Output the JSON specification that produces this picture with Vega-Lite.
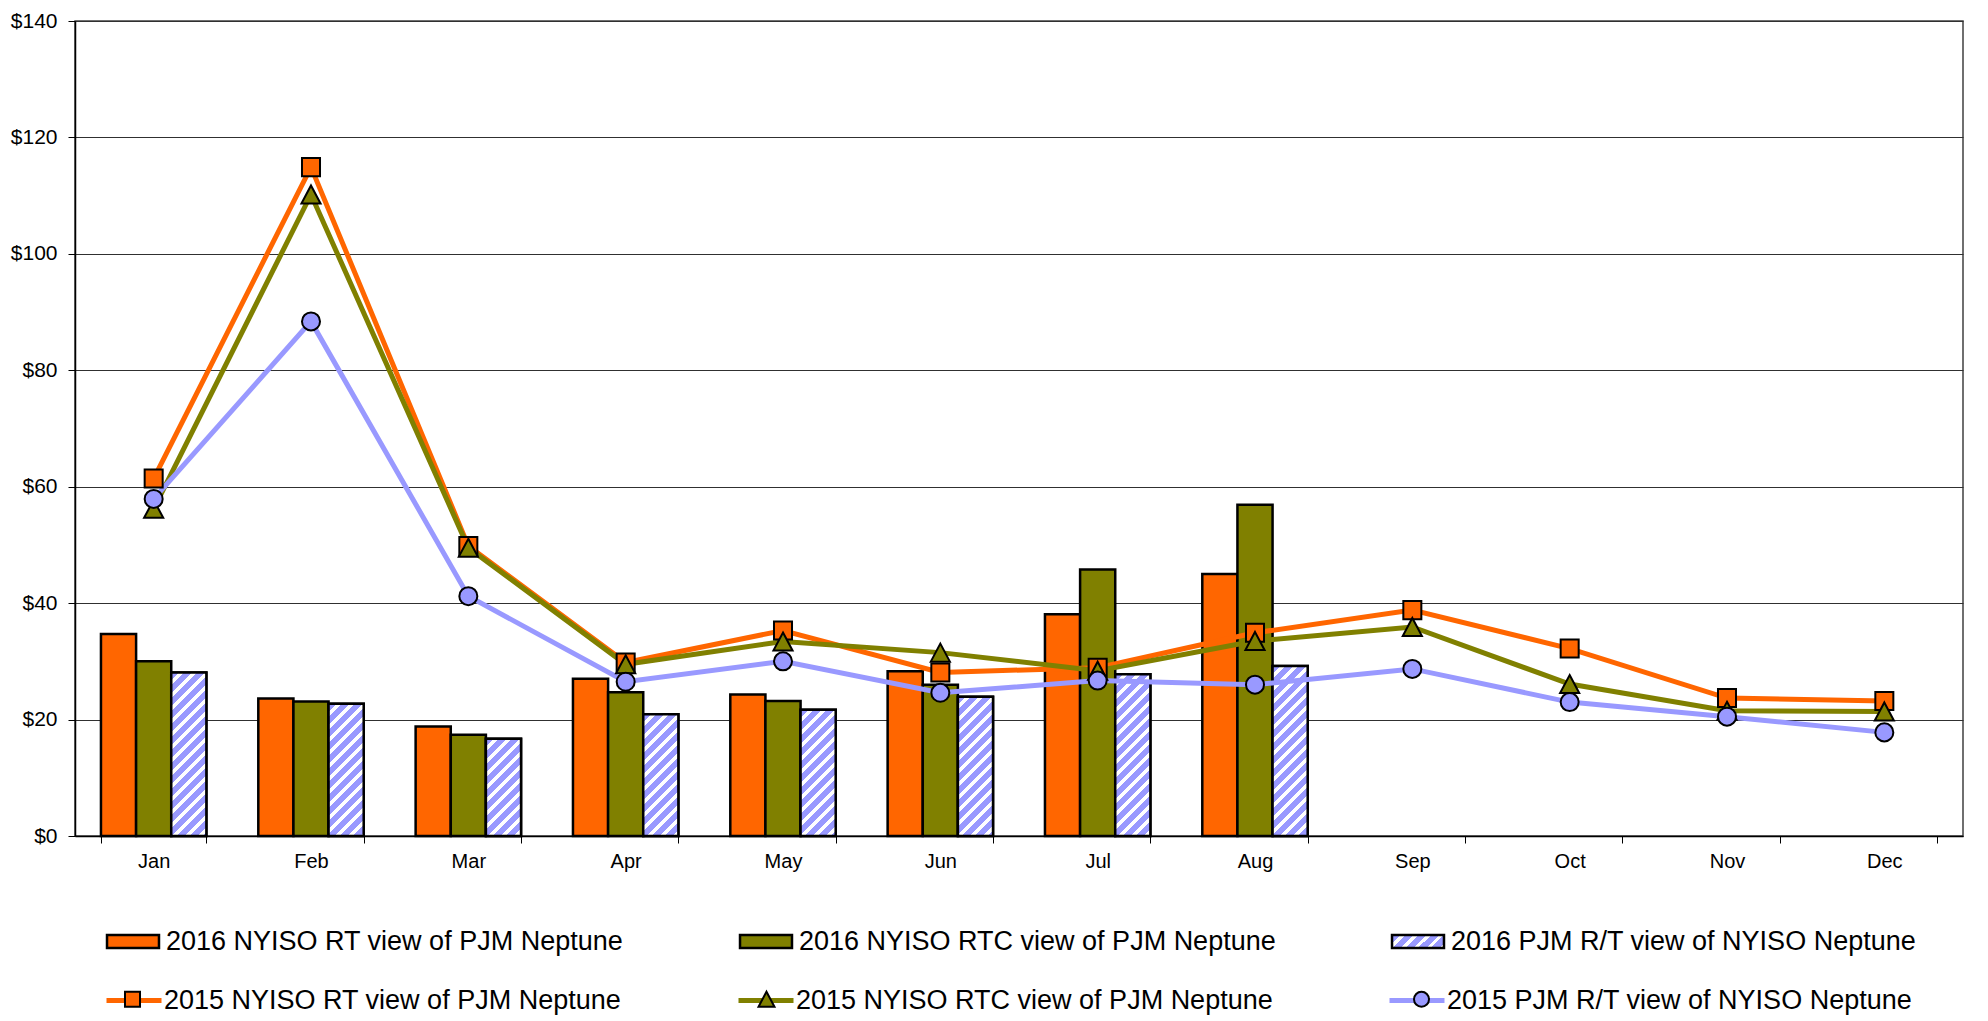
{
  "$schema": "https://vega.github.io/schema/vega-lite/v6.json",
  "width": 1888,
  "height": 815,
  "autosize": "none",
  "padding": {"left": 75, "top": 21, "right": 25, "bottom": 185},
  "background": "white",
  "params": [
    {"name": "hatchStops", "expr": "[{offset:0,color:'#9999ff'},{offset:0.039,color:'#9999ff'},{offset:0.039,color:'#ffffff'},{offset:0.0625,color:'#ffffff'},{offset:0.0625,color:'#9999ff'},{offset:0.1015,color:'#9999ff'},{offset:0.1015,color:'#ffffff'},{offset:0.125,color:'#ffffff'},{offset:0.125,color:'#9999ff'},{offset:0.164,color:'#9999ff'},{offset:0.164,color:'#ffffff'},{offset:0.1875,color:'#ffffff'},{offset:0.1875,color:'#9999ff'},{offset:0.2265,color:'#9999ff'},{offset:0.2265,color:'#ffffff'},{offset:0.25,color:'#ffffff'},{offset:0.25,color:'#9999ff'},{offset:0.289,color:'#9999ff'},{offset:0.289,color:'#ffffff'},{offset:0.3125,color:'#ffffff'},{offset:0.3125,color:'#9999ff'},{offset:0.3515,color:'#9999ff'},{offset:0.3515,color:'#ffffff'},{offset:0.375,color:'#ffffff'},{offset:0.375,color:'#9999ff'},{offset:0.414,color:'#9999ff'},{offset:0.414,color:'#ffffff'},{offset:0.4375,color:'#ffffff'},{offset:0.4375,color:'#9999ff'},{offset:0.4765,color:'#9999ff'},{offset:0.4765,color:'#ffffff'},{offset:0.5,color:'#ffffff'},{offset:0.5,color:'#9999ff'},{offset:0.539,color:'#9999ff'},{offset:0.539,color:'#ffffff'},{offset:0.5625,color:'#ffffff'},{offset:0.5625,color:'#9999ff'},{offset:0.6015,color:'#9999ff'},{offset:0.6015,color:'#ffffff'},{offset:0.625,color:'#ffffff'},{offset:0.625,color:'#9999ff'},{offset:0.664,color:'#9999ff'},{offset:0.664,color:'#ffffff'},{offset:0.6875,color:'#ffffff'},{offset:0.6875,color:'#9999ff'},{offset:0.7265,color:'#9999ff'},{offset:0.7265,color:'#ffffff'},{offset:0.75,color:'#ffffff'},{offset:0.75,color:'#9999ff'},{offset:0.789,color:'#9999ff'},{offset:0.789,color:'#ffffff'},{offset:0.8125,color:'#ffffff'},{offset:0.8125,color:'#9999ff'},{offset:0.8515,color:'#9999ff'},{offset:0.8515,color:'#ffffff'},{offset:0.875,color:'#ffffff'},{offset:0.875,color:'#9999ff'},{offset:0.914,color:'#9999ff'},{offset:0.914,color:'#ffffff'},{offset:0.9375,color:'#ffffff'},{offset:0.9375,color:'#9999ff'},{offset:0.9765,color:'#9999ff'},{offset:0.9765,color:'#ffffff'},{offset:1,color:'#ffffff'}]"}
  ],
  "datasets": {
    "bars2016": [
      {"month": "Jan", "series": "2016 NYISO RT view of PJM Neptune", "value": 34.7},
      {"month": "Jan", "series": "2016 NYISO RTC view of PJM Neptune", "value": 30.0},
      {"month": "Jan", "series": "2016 PJM R/T view of NYISO Neptune", "value": 28.1},
      {"month": "Feb", "series": "2016 NYISO RT view of PJM Neptune", "value": 23.6},
      {"month": "Feb", "series": "2016 NYISO RTC view of PJM Neptune", "value": 23.1},
      {"month": "Feb", "series": "2016 PJM R/T view of NYISO Neptune", "value": 22.7},
      {"month": "Mar", "series": "2016 NYISO RT view of PJM Neptune", "value": 18.8},
      {"month": "Mar", "series": "2016 NYISO RTC view of PJM Neptune", "value": 17.4},
      {"month": "Mar", "series": "2016 PJM R/T view of NYISO Neptune", "value": 16.7},
      {"month": "Apr", "series": "2016 NYISO RT view of PJM Neptune", "value": 27.0},
      {"month": "Apr", "series": "2016 NYISO RTC view of PJM Neptune", "value": 24.7},
      {"month": "Apr", "series": "2016 PJM R/T view of NYISO Neptune", "value": 20.9},
      {"month": "May", "series": "2016 NYISO RT view of PJM Neptune", "value": 24.3},
      {"month": "May", "series": "2016 NYISO RTC view of PJM Neptune", "value": 23.2},
      {"month": "May", "series": "2016 PJM R/T view of NYISO Neptune", "value": 21.7},
      {"month": "Jun", "series": "2016 NYISO RT view of PJM Neptune", "value": 28.3},
      {"month": "Jun", "series": "2016 NYISO RTC view of PJM Neptune", "value": 26.0},
      {"month": "Jun", "series": "2016 PJM R/T view of NYISO Neptune", "value": 23.9},
      {"month": "Jul", "series": "2016 NYISO RT view of PJM Neptune", "value": 38.1},
      {"month": "Jul", "series": "2016 NYISO RTC view of PJM Neptune", "value": 45.8},
      {"month": "Jul", "series": "2016 PJM R/T view of NYISO Neptune", "value": 27.8},
      {"month": "Aug", "series": "2016 NYISO RT view of PJM Neptune", "value": 45.0},
      {"month": "Aug", "series": "2016 NYISO RTC view of PJM Neptune", "value": 56.9},
      {"month": "Aug", "series": "2016 PJM R/T view of NYISO Neptune", "value": 29.2}
    ],
    "lines2015": [
      {"month": "Jan", "series": "2015 NYISO RT view of PJM Neptune", "value": 61.4},
      {"month": "Feb", "series": "2015 NYISO RT view of PJM Neptune", "value": 114.9},
      {"month": "Mar", "series": "2015 NYISO RT view of PJM Neptune", "value": 49.8},
      {"month": "Apr", "series": "2015 NYISO RT view of PJM Neptune", "value": 29.8},
      {"month": "May", "series": "2015 NYISO RT view of PJM Neptune", "value": 35.3},
      {"month": "Jun", "series": "2015 NYISO RT view of PJM Neptune", "value": 28.1},
      {"month": "Jul", "series": "2015 NYISO RT view of PJM Neptune", "value": 28.9},
      {"month": "Aug", "series": "2015 NYISO RT view of PJM Neptune", "value": 34.9},
      {"month": "Sep", "series": "2015 NYISO RT view of PJM Neptune", "value": 38.8},
      {"month": "Oct", "series": "2015 NYISO RT view of PJM Neptune", "value": 32.2},
      {"month": "Nov", "series": "2015 NYISO RT view of PJM Neptune", "value": 23.7},
      {"month": "Dec", "series": "2015 NYISO RT view of PJM Neptune", "value": 23.2},
      {"month": "Jan", "series": "2015 NYISO RTC view of PJM Neptune", "value": 56.2},
      {"month": "Feb", "series": "2015 NYISO RTC view of PJM Neptune", "value": 110.2},
      {"month": "Mar", "series": "2015 NYISO RTC view of PJM Neptune", "value": 49.5},
      {"month": "Apr", "series": "2015 NYISO RTC view of PJM Neptune", "value": 29.5},
      {"month": "May", "series": "2015 NYISO RTC view of PJM Neptune", "value": 33.4},
      {"month": "Jun", "series": "2015 NYISO RTC view of PJM Neptune", "value": 31.5},
      {"month": "Jul", "series": "2015 NYISO RTC view of PJM Neptune", "value": 28.4},
      {"month": "Aug", "series": "2015 NYISO RTC view of PJM Neptune", "value": 33.5},
      {"month": "Sep", "series": "2015 NYISO RTC view of PJM Neptune", "value": 35.9},
      {"month": "Oct", "series": "2015 NYISO RTC view of PJM Neptune", "value": 26.1},
      {"month": "Nov", "series": "2015 NYISO RTC view of PJM Neptune", "value": 21.5},
      {"month": "Dec", "series": "2015 NYISO RTC view of PJM Neptune", "value": 21.4},
      {"month": "Jan", "series": "2015 PJM R/T view of NYISO Neptune", "value": 57.9},
      {"month": "Feb", "series": "2015 PJM R/T view of NYISO Neptune", "value": 88.4},
      {"month": "Mar", "series": "2015 PJM R/T view of NYISO Neptune", "value": 41.2},
      {"month": "Apr", "series": "2015 PJM R/T view of NYISO Neptune", "value": 26.5},
      {"month": "May", "series": "2015 PJM R/T view of NYISO Neptune", "value": 30.0},
      {"month": "Jun", "series": "2015 PJM R/T view of NYISO Neptune", "value": 24.6},
      {"month": "Jul", "series": "2015 PJM R/T view of NYISO Neptune", "value": 26.7},
      {"month": "Aug", "series": "2015 PJM R/T view of NYISO Neptune", "value": 26.0},
      {"month": "Sep", "series": "2015 PJM R/T view of NYISO Neptune", "value": 28.7},
      {"month": "Oct", "series": "2015 PJM R/T view of NYISO Neptune", "value": 23.0},
      {"month": "Nov", "series": "2015 PJM R/T view of NYISO Neptune", "value": 20.5},
      {"month": "Dec", "series": "2015 PJM R/T view of NYISO Neptune", "value": 17.8}
    ]
  },
  "encoding": {
    "x": {
      "field": "month", "type": "nominal", "sort": null,
      "scale": {"domain": ["Jan","Feb","Mar","Apr","May","Jun","Jul","Aug","Sep","Oct","Nov","Dec"], "paddingInner": 0.33, "paddingOuter": 0.165},
      "axis": {"title": null, "labelAngle": 0, "tickBand": "extent", "tickSize": 7, "labelPadding": 8, "grid": false}
    },
    "y": {
      "field": "value", "type": "quantitative",
      "scale": {"domain": [0, 140], "nice": false, "zero": true},
      "axis": {"title": null, "values": [0,20,40,60,80,100,120,140], "format": "$.0f", "grid": true, "gridColor": "#303030", "gridWidth": 1, "tickSize": 7, "labelPadding": 11, "labelFontSize": 21}
    }
  },
  "layer": [
    {
      "data": {"name": "bars2016"},
      "mark": {"type": "bar", "stroke": "black", "strokeWidth": 2.5},
      "encoding": {
        "xOffset": {"field": "series", "type": "nominal", "scale": {"domain": ["2016 NYISO RT view of PJM Neptune","2016 NYISO RTC view of PJM Neptune","2016 PJM R/T view of NYISO Neptune"], "paddingInner": 0, "paddingOuter": 0}},
        "fill": {
          "field": "series", "type": "nominal",
          "scale": {"domain": ["2016 NYISO RT view of PJM Neptune","2016 NYISO RTC view of PJM Neptune","2016 PJM R/T view of NYISO Neptune"], "range": ["#FF6600","#808000",{"expr": "{gradient:'linear',x1:0,y1:0,x2:3.765,y2:0.941,stops:hatchStops}"}]},
          "legend": {
            "title": null, "orient": "none", "legendX": 29, "legendY": 891.5,
            "direction": "horizontal", "columns": 3, "columnPadding": 111, "padding": 0,
            "symbolType": "M-0.945,-0.236H0.945V0.236H-0.945Z", "symbolSize": 3025,
            "symbolStrokeWidth": 2.5, "symbolOpacity": 1,
            "labelFont": "Liberation Sans", "labelFontSize": 27, "labelColor": "black", "labelOffset": 4, "labelLimit": 1000
          }
        }
      }
    },
    {
      "data": {"name": "bars2016"},
      "transform": [{"filter": "datum.series === '2016 PJM R/T view of NYISO Neptune'"}],
      "mark": {
        "type": "bar", "stroke": "black", "strokeWidth": 2.5,
        "fill": {"expr": "{gradient:'linear',x1:0,y1:0,x2:208*35.14/(1234.8+pow(datum.value*5.8214,2)),y2:208*datum.value*5.8214/(1234.8+pow(datum.value*5.8214,2)),stops:hatchStops}"}
      },
      "encoding": {
        "xOffset": {"field": "series", "type": "nominal"}
      }
    },
    {
      "data": {"name": "lines2015"},
      "mark": {"type": "line", "strokeWidth": 5},
      "encoding": {
        "stroke": {
          "field": "series", "type": "nominal",
          "scale": {"range": ["#FF6600","#808000","#9999FF"]},
          "legend": {
            "title": null, "orient": "none", "legendX": 29, "legendY": 949.5,
            "direction": "horizontal", "columns": 3, "columnPadding": 106, "padding": 0,
            "symbolType": "stroke", "symbolSize": 3025, "symbolStrokeWidth": 5,
            "labelFont": "Liberation Sans", "labelFontSize": 27, "labelColor": "black", "labelOffset": 0, "labelLimit": 1000
          }
        }
      }
    },
    {
      "data": {"name": "lines2015"},
      "mark": {"type": "point", "filled": true, "stroke": "black", "strokeWidth": 2, "opacity": 1, "size": 4356},
      "encoding": {
        "color": {
          "field": "series", "type": "nominal",
          "scale": {"domain": ["2015 NYISO RT view of PJM Neptune","2015 NYISO RTC view of PJM Neptune","2015 PJM R/T view of NYISO Neptune"], "range": ["#FF6600","#808000","#9999FF"]},
          "legend": {
            "title": null, "orient": "none", "legendX": 29, "legendY": 949.5,
            "direction": "horizontal", "columns": 3, "columnPadding": 106, "padding": 0,
            "symbolSize": 3025, "symbolStrokeWidth": 2, "symbolOpacity": 1,
            "labelExpr": "''", "labelFontSize": 27, "labelOffset": 4
          }
        },
        "shape": {
          "field": "series", "type": "nominal",
          "scale": {"domain": ["2015 NYISO RT view of PJM Neptune","2015 NYISO RTC view of PJM Neptune","2015 PJM R/T view of NYISO Neptune"], "range": ["M-1,0M17.89,0M-0.273,-0.273H0.273V0.273H-0.273Z","M-1,0M18.65,0M0,-0.273L0.29,0.273H-0.29Z","M-1,0M1,0M0.273,0A0.273,0.273,0,1,1,-0.273,0A0.273,0.273,0,1,1,0.273,0Z"]},
          "legend": {
            "title": null, "orient": "none", "legendX": 29, "legendY": 949.5,
            "direction": "horizontal", "columns": 3, "columnPadding": 106, "padding": 0,
            "symbolSize": 3025, "symbolStrokeWidth": 2, "symbolOpacity": 1,
            "labelExpr": "''", "labelFontSize": 27, "labelOffset": 4
          }
        }
      }
    }
  ],
  "config": {
    "view": {"stroke": "#404040", "strokeWidth": 1.5},
    "axis": {"labelFont": "Liberation Sans", "labelFontSize": 20, "labelColor": "black", "domainColor": "black", "domainWidth": 1.5, "tickColor": "black", "tickWidth": 1}
  }
}
